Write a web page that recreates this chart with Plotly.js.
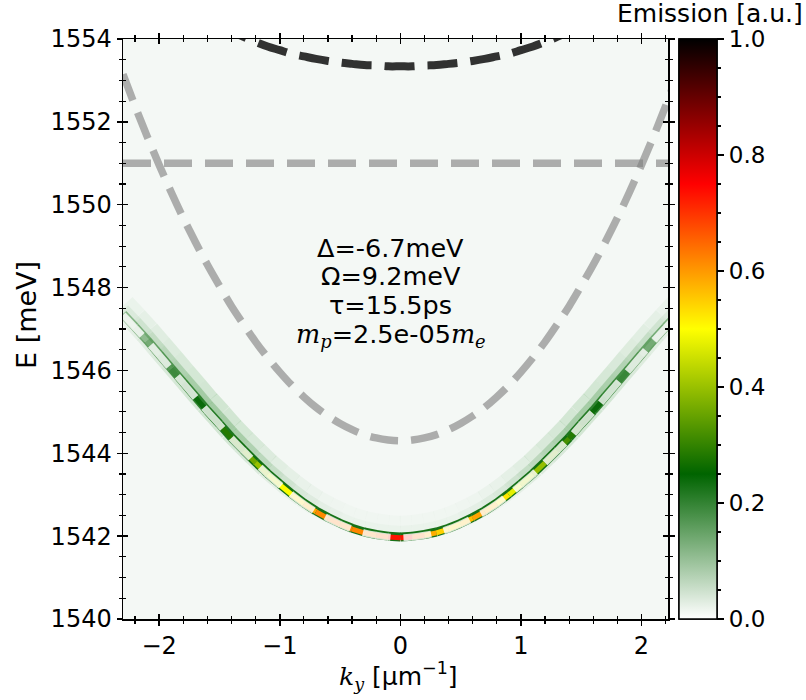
<!DOCTYPE html>
<html><head><meta charset="utf-8">
<script src="https://cdn.plot.ly/plotly-3.0.1.min.js"></script>
<style>body{margin:0;background:#fff}#chart{width:806px;height:700px}</style>
</head><body><div id="chart"></div>
<script>
// ---- data ----
const kGrid = [-2.3,-2.2,-2.1,-2.0,-1.9,-1.8,-1.7,-1.6,-1.5,-1.4,-1.3,-1.2,-1.1,-1.0,-0.9,-0.8,-0.7,-0.6,-0.5,-0.4,-0.3,-0.2,-0.1,0.0,
  0.1,0.2,0.3,0.4,0.5,0.6,0.7,0.8,0.9,1.0,1.1,1.2,1.3,1.4,1.5,1.6,1.7,1.8,1.9,2.0,2.1,2.2,2.3];
const photonE = [1553.15,1552.38,1551.65,1550.96,1550.30,1549.68,1549.10,1548.55,1548.04,1547.55,1547.11,1546.69,1546.31,1545.96,1545.64,1545.36,1545.11,1544.90,1544.72,1544.57,1544.45,1544.37,1544.32,1544.30,
  1544.32,1544.37,1544.45,1544.57,1544.72,1544.90,1545.11,1545.36,1545.64,1545.96,1546.31,1546.69,1547.11,1547.55,1548.04,1548.55,1549.10,1549.68,1550.30,1550.96,1551.65,1552.38,1553.15];
const lowerPolE = [1547.34,1547.03,1546.71,1546.37,1546.03,1545.69,1545.35,1545.01,1544.69,1544.36,1544.06,1543.77,1543.49,1543.24,1543.00,1542.78,1542.59,1542.43,1542.29,1542.17,1542.08,1542.02,1541.98,1541.96,
  1541.98,1542.02,1542.08,1542.17,1542.29,1542.43,1542.59,1542.78,1543.00,1543.24,1543.49,1543.77,1544.06,1544.36,1544.69,1545.01,1545.35,1545.69,1546.03,1546.37,1546.71,1547.03,1547.34];
const emission = [0.08,0.10,0.12,0.15,0.18,0.20,0.23,0.25,0.27,0.30,0.34,0.38,0.42,0.47,0.52,0.57,0.60,0.63,0.63,0.62,0.62,0.63,0.68,0.78,
  0.68,0.60,0.56,0.53,0.55,0.58,0.60,0.55,0.50,0.45,0.41,0.38,0.34,0.30,0.27,0.25,0.23,0.21,0.18,0.15,0.12,0.10,0.08];
const haze = [0.10,0.18,0.25,0.32,0.38,0.44,0.48,0.50,0.50,0.48,0.44,0.38,0.30,0.24,0.18,0.14,0.10,0.08,0.06,0.05,0.05,0.05,0.05,0.05,
  0.05,0.05,0.05,0.05,0.06,0.08,0.10,0.14,0.18,0.24,0.30,0.36,0.42,0.46,0.48,0.48,0.46,0.42,0.36,0.30,0.24,0.17,0.10];
const kUpper = [-1.5,-1.4,-1.3,-1.2,-1.1,-1.0,-0.9,-0.8,-0.7,-0.6,-0.5,-0.4,-0.3,-0.2,-0.1,0.0,0.1,0.2,0.3,0.4,0.5,0.6,0.7,0.8,0.9,1.0,1.1,1.2,1.3,1.4,1.5];
const upperPolE = [1554.35,1554.19,1554.05,1553.93,1553.82,1553.73,1553.64,1553.58,1553.52,1553.47,1553.43,1553.40,1553.37,1553.36,1553.34,1553.34,
  1553.34,1553.36,1553.37,1553.40,1553.43,1553.47,1553.52,1553.58,1553.64,1553.73,1553.82,1553.93,1554.05,1554.19,1554.35];
const kExciton = [-2.3, 2.3];
const excitonE = [1551.0, 1551.0];
const xTickVals = [-2,-1,0,1,2];
const yTickVals = [1540,1542,1544,1546,1548,1550,1552,1554];
const cbTickVals = [0,0.2,0.4,0.6,0.8,1.0];
const cbTickText = ['0.0','0.2','0.4','0.6','0.8','1.0'];
const cbMinorVals = [0,0.05,0.1,0.15,0.2,0.25,0.3,0.35,0.4,0.45,0.5,0.55,0.6,0.65,0.7,0.75,0.8,0.85,0.9,0.95,1.0];
const SERIF = '<span style="font-family:\'DejaVu Serif\'">';
const paramLines = ['Δ=-6.7meV','Ω=9.2meV','τ=15.5ps',
  SERIF+'<i>m<sub>p</sub></i></span>=2.5e-05'+SERIF+'<i>m<sub>e</sub></i></span>'];
const xTitle = SERIF+'<i>k<sub>y</sub></i></span> [µm<sup>−1</sup>]';
const yTitle = 'E [meV]';
const cbTitle = 'Emission [a.u.]';

// ---- styling ----
const colorStops = [[0,'#ffffff'],[0.25,'#006400'],[0.5,'#ffff00'],[0.75,'#ff0000'],[1,'#000000']];
function hex2rgb(h){return [parseInt(h.slice(1,3),16),parseInt(h.slice(3,5),16),parseInt(h.slice(5,7),16)];}
function scaleColor(v){
  v=Math.max(0,Math.min(1,v));
  for(let i=1;i<colorStops.length;i++){
    if(v<=colorStops[i][0]){
      const a=colorStops[i-1],b=colorStops[i];
      const t=(v-a[0])/(b[0]-a[0]);
      const ca=hex2rgb(a[1]),cb=hex2rgb(b[1]);
      return 'rgb('+ca.map((c,j)=>Math.round(c+(cb[j]-c)*t)).join(',')+')';
    }
  }
  return '#000000';
}
const FONT = 'DejaVu Sans';
const traces = [];
function seg(i, dy, width, color){
  return {x:[kGrid[i],kGrid[i+1]], y:[lowerPolE[i]+dy,lowerPolE[i+1]+dy], mode:'lines',
    line:{color:color, width:width}, hoverinfo:'skip', showlegend:false};
}
// diffuse haze (slightly above the branch)
for(let i=0;i<kGrid.length-1;i++){
  const h=(haze[i]+haze[i+1])/2;
  traces.push(seg(i, 0.22, 26, 'rgba(0,120,0,'+(h*0.28).toFixed(3)+')'));
  traces.push(seg(i, 0.12, 14, 'rgba(0,110,0,'+(h*0.45).toFixed(3)+')'));
}
// dark green rim and coloured core
for(let i=0;i<kGrid.length-1;i++){
  const e=(emission[i]+emission[i+1])/2;
  traces.push(seg(i, 0.02, 9, 'rgba(0,100,0,'+Math.min(0.9,0.2+e*2.2).toFixed(3)+')'));
}
for(let i=0;i<kGrid.length-1;i++){
  traces.push(seg(i, 0, 5, scaleColor((emission[i]+emission[i+1])/2)));
}
// photon and exciton
traces.push({x:kGrid, y:photonE, mode:'lines', line:{color:'rgba(128,128,128,0.62)', width:7.5, dash:'28px,13px', shape:'spline'}, showlegend:false, hoverinfo:'skip'});
traces.push({x:kExciton, y:excitonE, mode:'lines', line:{color:'rgba(128,128,128,0.62)', width:7.5, dash:'28px,13px'}, showlegend:false, hoverinfo:'skip'});
// upper polariton
traces.push({x:kUpper, y:upperPolE, mode:'lines', line:{color:'rgba(0,0,0,0.8)', width:8, dash:'30px,13px', shape:'spline'}, showlegend:false, hoverinfo:'skip'});
// lower polariton (white dashed)
traces.push({x:kGrid, y:lowerPolE, mode:'lines', line:{color:'rgba(255,255,255,0.8)', width:7, dash:'28px,13px', shape:'spline'}, showlegend:false, hoverinfo:'skip'});

// colourbars (minor + major ticks)
const cbBase = {thickness:38, len:1, lenmode:'fraction', x:1.02, xanchor:'left', y:0.5, yanchor:'middle',
  xpad:0, ypad:0, outlinecolor:'#000', outlinewidth:1.5, ticks:'outside', tickcolor:'#000', tickwidth:1.5};
traces.push({x:[kGrid[0]], y:[lowerPolE[0]], xaxis:'x2', yaxis:'y2', mode:'markers', hoverinfo:'skip', showlegend:false,
  marker:{size:1, opacity:0, color:emission, cmin:0, cmax:1, colorscale:colorStops, showscale:true,
    colorbar:Object.assign({}, cbBase, {tickmode:'array', tickvals:cbMinorVals, ticklen:4, showticklabels:false})}});
traces.push({x:[kGrid[0]], y:[lowerPolE[0]], xaxis:'x2', yaxis:'y2', mode:'markers', hoverinfo:'skip', showlegend:false,
  marker:{size:1, opacity:0, color:emission, cmin:0, cmax:1, colorscale:colorStops, showscale:true,
    colorbar:Object.assign({}, cbBase, {tickmode:'array', tickvals:cbTickVals, ticktext:cbTickText, ticklen:7,
      tickfont:{family:FONT, size:23, color:'#000'}})}});

const axCommon = {showgrid:false, zeroline:false, showline:true, linecolor:'#000', linewidth:1.5,
  ticks:'outside', tickcolor:'#000', tickwidth:1.5, ticklen:5, mirror:'ticks'};
const lineShift = [0, -28.5, -57, -88];
const annotations = paramLines.map((t,i)=>({xref:'x', yref:'y', x:-0.08, y:1548.96, yshift:lineShift[i], text:t, showarrow:false,
  xanchor:'center', yanchor:'middle', font:{family:FONT, size:25.5, color:'#000'}}));
annotations.push({xref:'paper', yref:'paper', x:1.0+(805-668)/545, y:1.0, xanchor:'right', yanchor:'bottom', yshift:9,
  text:cbTitle, showarrow:false, font:{family:FONT, size:25, color:'#000'}});
annotations.push({xref:'paper', yref:'paper', x:(398-123)/545, y:(619-676)/580, xanchor:'center', yanchor:'middle',
  text:xTitle, showarrow:false, font:{family:FONT, size:25, color:'#000'}});
annotations.push({xref:'paper', yref:'paper', x:(26-123)/545, y:(619-315)/580, xanchor:'center', yanchor:'middle', textangle:-90,
  text:yTitle, showarrow:false, font:{family:FONT, size:27, color:'#000'}});
const layout = {
  width:806, height:700, margin:{l:123, r:138, t:39, b:81},
  paper_bgcolor:'#ffffff', plot_bgcolor:'rgb(244,248,245)',
  font:{family:FONT, color:'#000'},
  xaxis:Object.assign({}, axCommon, {range:[-2.3,2.22], tickmode:'array', tickvals:xTickVals,
    tickfont:{family:FONT, size:24}, minor:{dtick:0.2, tick0:0, ticks:'outside', ticklen:3, tickcolor:'#000', tickwidth:1.2}}),
  yaxis:Object.assign({}, axCommon, {range:[1540,1554], tickmode:'array', tickvals:yTickVals,
    tickfont:{family:FONT, size:24}, minor:{dtick:0.5, tick0:1540, ticks:'outside', ticklen:3, tickcolor:'#000', tickwidth:1.2}}),
  xaxis2:{overlaying:'x', anchor:'y2', range:[-2.3,2.22], showgrid:false, zeroline:false, showline:false, showticklabels:false,
    ticks:'inside', tickmode:'array', tickvals:xTickVals, ticklen:5, tickwidth:1.5, tickcolor:'#000', mirror:'ticks',
    minor:{dtick:0.2, tick0:0, ticks:'inside', ticklen:3, tickcolor:'#000', tickwidth:1.2}},
  yaxis2:{overlaying:'y', anchor:'x2', range:[1540,1554], showgrid:false, zeroline:false, showline:false, showticklabels:false,
    ticks:'inside', tickmode:'array', tickvals:yTickVals, ticklen:5, tickwidth:1.5, tickcolor:'#000', mirror:'ticks',
    minor:{dtick:0.5, tick0:1540, ticks:'inside', ticklen:3, tickcolor:'#000', tickwidth:1.2}},
  annotations:annotations
};
Plotly.newPlot('chart', traces, layout, {displayModeBar:false, staticPlot:true});
</script></body></html>
